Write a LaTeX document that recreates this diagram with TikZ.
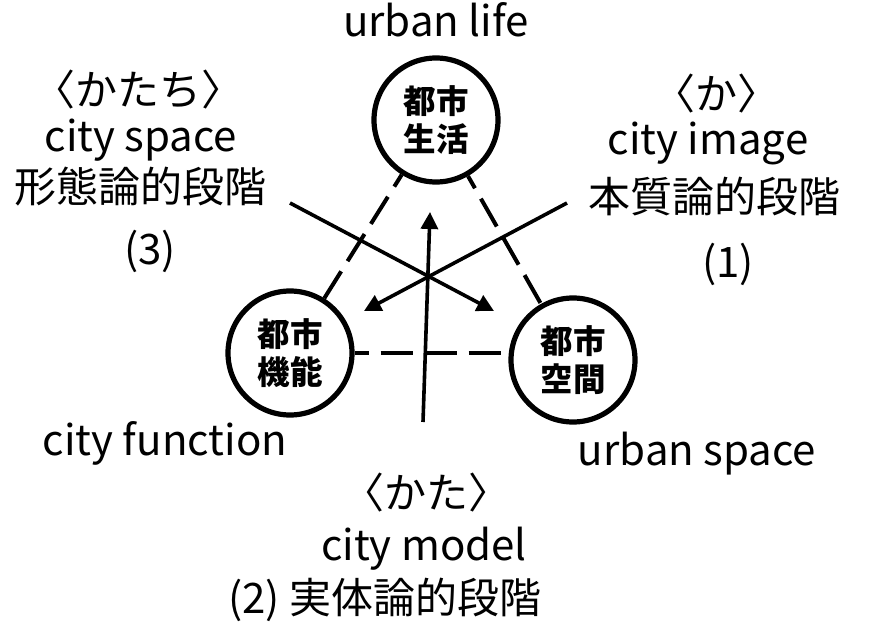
\documentclass[tikz,border=0pt]{standalone}
\usepackage{fontspec}
\setmainfont{Noto Sans CJK JP}
\usetikzlibrary{arrows.meta}
\tikzset{
  hub/.style={circle,draw,line width=5.2pt,minimum size=124pt,inner sep=0pt,align=center,
    font=\fontsize{32.5}{38}\selectfont\bfseries},
  lab/.style={anchor=base,inner sep=0pt,font=\fontsize{42}{50}\selectfont},
  link/.style={line width=4pt,dash pattern=on 32pt off 12pt},
  flow/.style={line width=3.6pt,-{Triangle[length=17pt,width=17pt]}}
}
\begin{document}
\begin{tikzpicture}[x=1pt,y=-1pt]
\useasboundingbox (0,0) rectangle (871,623);
\node[hub] (life) at (436,120) {都市\\生活};
\node[hub] (func) at (290,353) {都市\\機能};
\node[hub] (space) at (573,360) {都市\\空間};
\draw[link,dash phase=18pt] (life) -- (func);
\draw[link,dash phase=18pt] (life) -- (space);
\draw[link,dash phase=18pt] (func.east) -- (space.west |- func.east);
\coordinate (s1) at (423,422);
\coordinate (t1) at (430,212);
\coordinate (s2) at (290,203);
\coordinate (t2) at (494,311);
\coordinate (s3) at (567,203);
\coordinate (t3) at (364,311);
\draw[flow] (s1) -- (t1);
\draw[flow] (s2) -- (t2);
\draw[flow] (s3) -- (t3);
\node[lab] (ul) at (436,37) {urban life};
\node[lab] (l1) at (139,106) {〈かたち〉};
\node[lab] (l2) at (141,152) {city space};
\node[lab] (l3) at (141,203) {形態論的段階};
\node[lab] (l4) at (150,264) {(3)};
\node[lab] (r1) at (716,110) {〈か〉};
\node[lab] (r2) at (708,155) {city image};
\node[lab] (r3) at (714,213) {本質論的段階};
\node[lab] (r4) at (728,277) {(1)};
\node[lab] (cf) at (165,455) {city function};
\node[lab] (us) at (697,465) {urban space};
\node[lab] (b1) at (426,508) {〈かた〉};
\node[lab] (b2) at (424,560) {city model};
\node[lab] (b3) at (385,613) {(2) 実体論的段階};
\end{tikzpicture}
\end{document}
